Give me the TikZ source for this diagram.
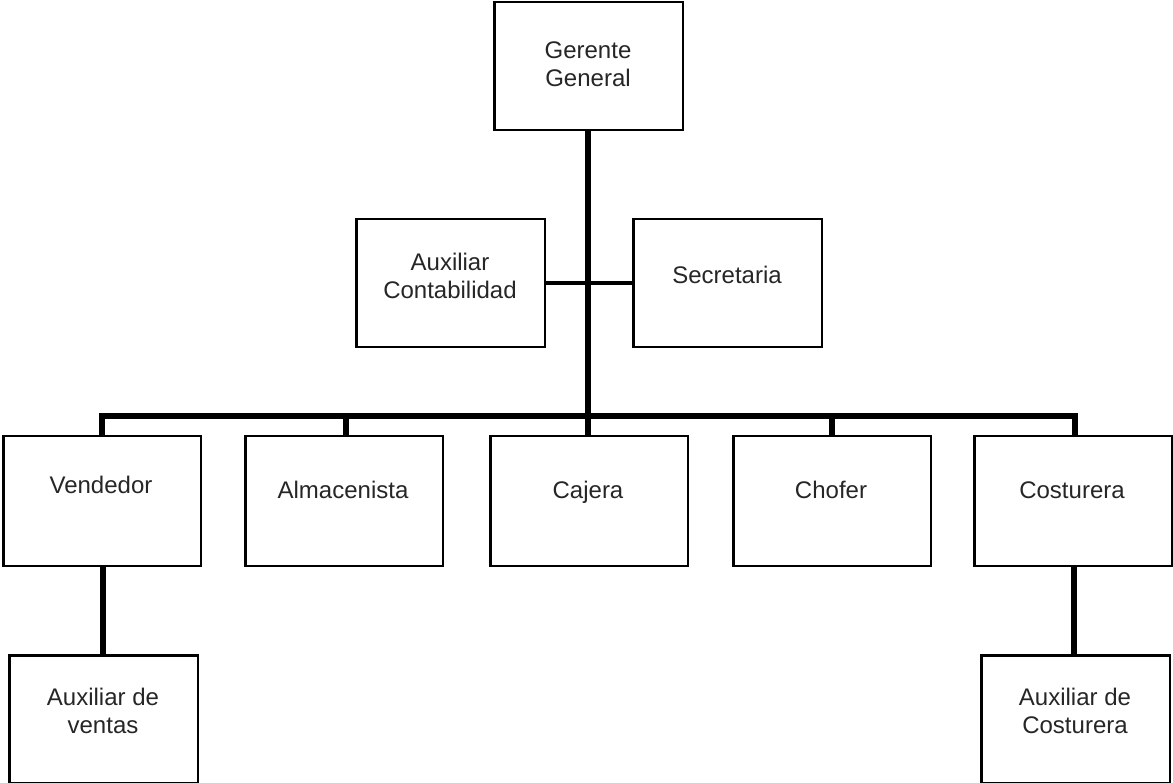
\documentclass[tikz,border=0pt]{standalone}
\usepackage{fontspec}
\setmainfont{Liberation Sans}
\begin{document}
\begin{tikzpicture}[x=1pt,y=-1pt,
  box/.style={draw=black,line width=1.5pt,fill=white,minimum width=188pt,minimum height=127pt,inner sep=0pt,anchor=north west},
  wbox/.style={box,minimum width=197pt,minimum height=129pt},
  txt/.style={font=\fontsize{24}{28}\selectfont,align=center,text=black!85,inner sep=0pt,yshift=-3pt},
  con/.style={line width=5.5pt,draw=black},
  side/.style={line width=4pt,draw=black}]
\useasboundingbox (0,0) rectangle (1173,783);
\fill[white] (0,0) rectangle (1173,783);
% boxes
\node[box] (gg) at (494,2) {};
\node[box] (ac) at (356,219) {};
\node[box] (se) at (633,219) {};
\node[wbox] (ve) at (3,436) {};
\node[wbox] (al) at (245,436) {};
\node[wbox] (ca) at (490,436) {};
\node[wbox] (ch) at (733,436) {};
\node[wbox] (co) at (974,436) {};
\node[box] (av) at (9,655) {};
\node[box] (acs) at (981,655) {};
% junctions
\coordinate (bus) at (588,416);
\coordinate (mid) at (588,283);
% connectors
\draw[con] (gg.south -| bus) -- (bus);
\draw[side] (ac.east |- mid) -- (se.west |- mid);
\draw[con] (ve.north -| 102,0) |- (bus);
\draw[con] (co.north -| 1075,0) |- (bus);
\draw[con] (al.north -| 346,0) -- (346,416);
\draw[con] (ca.north -| 588,0) -- (bus);
\draw[con] (ch.north -| 832,0) -- (832,416);
\draw[con] (ve.south -| 103,0) -- (av.north -| 103,0);
\draw[con] (co.south -| 1074,0) -- (acs.north -| 1074,0);
% redraw box borders on top
\foreach \n in {gg,ac,se,ve,al,ca,ch,co,av,acs}{\draw[line width=1.5pt] (\n.north west) rectangle (\n.south east);}
% texts
\node[txt] (tgg) at (588,64) {\strut Gerente\\\strut General};
\node[txt] (tac) at (450,276) {\strut Auxiliar\\\strut Contabilidad};
\node[txt] (tse) at (727,275) {\strut Secretaria};
\node[txt] (tve) at (101,485) {\strut Vendedor};
\node[txt] (tal) at (343,490) {\strut Almacenista};
\node[txt] (tca) at (588,490) {\strut Cajera};
\node[txt] (tch) at (831,490) {\strut Chofer};
\node[txt] (tco) at (1072,490) {\strut Costurera};
\node[txt] (tav) at (103,711) {\strut Auxiliar de\\\strut ventas};
\node[txt] (tacs) at (1075,711) {\strut Auxiliar de\\\strut Costurera};
\end{tikzpicture}
\end{document}
